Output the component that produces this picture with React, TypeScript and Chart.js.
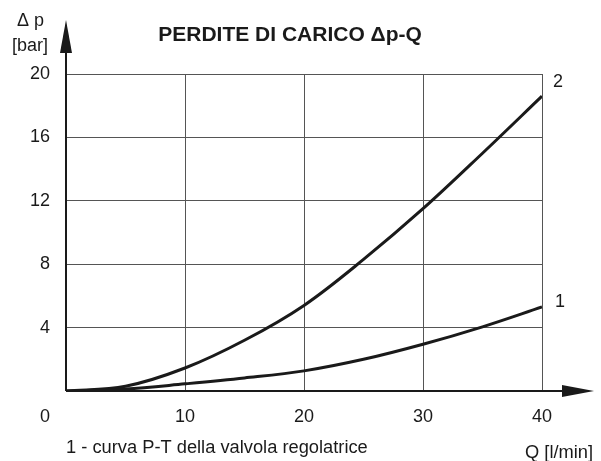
import React, { useEffect, useRef } from "react";
import { Chart, registerables } from "chart.js";

Chart.register(...registerables);

const flowQ = [0, 5, 10, 15, 20, 25, 30, 35, 40];
const curve1 = [0, 0.12, 0.45, 0.82, 1.27, 2.0, 2.95, 4.05, 5.3];
const curve2 = [0, 0.3, 1.45, 3.2, 5.4, 8.3, 11.5, 15.0, 18.6];
const xTicks = [0, 10, 20, 30, 40];
const yTicks = [0, 4, 8, 12, 16, 20];
const curveLabels = ["1", "2"];
const titleText = "PERDITE DI CARICO \u0394p-Q";
const yLabelTop = "\u0394 p";
const yLabelUnit = "[bar]";
const xLabel = "Q [l/min]";
const noteText = "1 - curva P-T della valvola regolatrice";

const FONT = "'Liberation Sans', Arial, sans-serif";
const INK = "#1a1a1a";

const decorPlugin = {
  id: "decor",
  afterDraw(chart: any) {
    const ctx = chart.ctx;
    const xs = chart.scales.x;
    const ys = chart.scales.y;
    const x0 = xs.getPixelForValue(0);
    const y0 = ys.getPixelForValue(0);
    ctx.save();
    ctx.strokeStyle = INK;
    ctx.fillStyle = INK;
    ctx.lineWidth = 2;
    ctx.beginPath();
    ctx.moveTo(x0, y0);
    ctx.lineTo(x0, 40);
    ctx.moveTo(x0, y0);
    ctx.lineTo(575, y0);
    ctx.stroke();
    ctx.beginPath();
    ctx.moveTo(x0, 20);
    ctx.lineTo(x0 - 6, 53);
    ctx.lineTo(x0 + 6, 53);
    ctx.closePath();
    ctx.fill();
    ctx.beginPath();
    ctx.moveTo(594, y0);
    ctx.lineTo(562, y0 - 6);
    ctx.lineTo(562, y0 + 6);
    ctx.closePath();
    ctx.fill();

    ctx.textBaseline = "middle";
    ctx.font = `bold 21px ${FONT}`;
    ctx.textAlign = "center";
    ctx.fillText(titleText, 290, 35);

    ctx.font = `18px ${FONT}`;
    ctx.textAlign = "left";
    ctx.fillText(yLabelTop, 17, 21);
    ctx.fillText(yLabelUnit, 12, 46);
    ctx.font = `18.3px ${FONT}`;
    ctx.fillText(noteText, 66, 448);
    ctx.fillText(xLabel, 525, 453);
    ctx.font = `18px ${FONT}`;
    ctx.textAlign = "center";
    ctx.fillText("0", 45, 417);

    ctx.textAlign = "left";
    const xe = xs.getPixelForValue(40);
    ctx.fillText(curveLabels[1], xe + 11, 82);
    ctx.fillText(curveLabels[0], xe + 13, 302);
    ctx.restore();
  },
};

export default function App() {
  const ref = useRef<HTMLCanvasElement | null>(null);
  useEffect(() => {
    if (!ref.current) return;
    const toPts = (ys: number[]) => flowQ.map((q, i) => ({ x: q, y: ys[i] }));
    const chart = new Chart(ref.current, {
      type: "line",
      data: {
        datasets: [
          {
            label: curveLabels[0],
            data: toPts(curve1),
            borderColor: INK,
            borderWidth: 3,
            pointRadius: 0,
            tension: 0.35,
            fill: false,
          },
          {
            label: curveLabels[1],
            data: toPts(curve2),
            borderColor: INK,
            borderWidth: 3,
            pointRadius: 0,
            tension: 0.35,
            fill: false,
          },
        ],
      },
      options: {
        animation: false,
        responsive: false,
        maintainAspectRatio: false,
        layout: { padding: { left: 0, top: 74, right: 59, bottom: 0 } },
        plugins: { legend: { display: false }, tooltip: { enabled: false }, title: { display: false } },
        scales: {
          x: {
            type: "linear",
            min: 0,
            max: 40,
            afterFit: (s: any) => {
              s.height = 70;
            },
            afterBuildTicks: (s: any) => {
              s.ticks = xTicks.map((v) => ({ value: v }));
            },
            grid: { color: "#555", lineWidth: 1, drawTicks: false },
            border: { display: false },
            ticks: {
              padding: 15,
              color: INK,
              font: { family: FONT, size: 18 },
              callback: (v: any) => (v === 0 ? "" : String(v)),
            },
          },
          y: {
            type: "linear",
            min: 0,
            max: 20,
            afterFit: (s: any) => {
              s.width = 66;
            },
            afterBuildTicks: (s: any) => {
              s.ticks = yTicks.map((v) => ({ value: v }));
            },
            grid: { color: "#555", lineWidth: 1, drawTicks: false },
            border: { display: false },
            ticks: {
              padding: 16,
              color: INK,
              font: { family: FONT, size: 18 },
              callback: (v: any) => (v === 0 ? "" : String(v)),
            },
          },
        },
      },
      plugins: [decorPlugin],
    });
    return () => chart.destroy();
  }, []);
  return (
    <div style={{ position: "fixed", left: 0, top: 0, width: 601, height: 461, background: "#fff" }}>
      <canvas ref={ref} width={601} height={461} style={{ width: 601, height: 461 }} />
    </div>
  );
}
